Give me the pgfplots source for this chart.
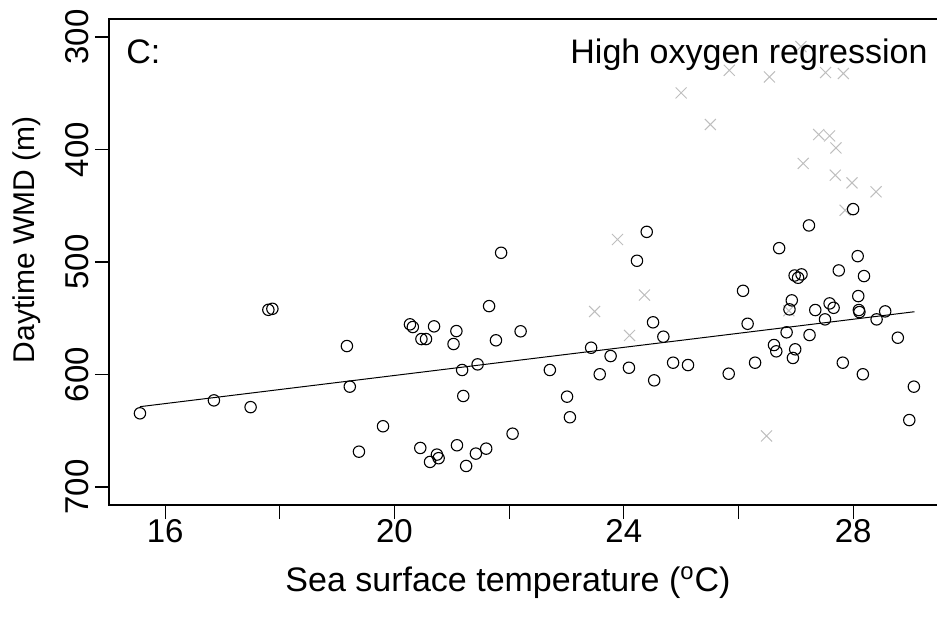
\documentclass[border=0pt]{standalone}
\usepackage{fontspec}
\setmainfont{Liberation Sans}
\usepackage{pgfplots}
\pgfplotsset{compat=1.18}
\definecolor{crossgray}{RGB}{190,190,190}
\begin{document}
\begin{tikzpicture}[x=1pt,y=1pt]
\begin{axis}[name=ax, at={(0,0)}, anchor=south west, scale only axis,
  width=418.2pt, height=243pt,
  xmin=15.02, xmax=29.61, ymin=284, ymax=716, y dir=reverse,
  axis line style={line width=0.6pt},
  xtick={16,18,...,28}, xticklabels={16,,20,,24,,28},
  ytick={300,400,...,700},
  tick pos=left, tick align=outside, major tick length=7pt,
  tick style={line width=0.6pt, black},
  /pgf/number format/assume math mode=true,
  tick label style={font=\fontsize{16.5}{18}\selectfont},
  xticklabel style={anchor=north, inner sep=0pt},
  yticklabel style={xshift=-3.5pt, rotate=90, anchor=base, inner sep=0pt},
  clip=false,
]
% high oxygen points (grey crosses)
\addplot[only marks, mark=x, mark size=3.9pt, color=crossgray, mark options={line width=0.5pt}] coordinates {
(27.09,308.5) (25.84,329.6) (26.54,335.5) (27.52,331.6) (27.83,332.5)
(25.00,349.7) (25.51,377.8) (27.40,386.7) (27.59,387.9) (27.70,398.6)
(27.13,412.4) (27.69,422.8) (27.98,429.7) (28.40,437.6) (27.86,454.0)
(23.89,480.0) (23.49,544.0) (24.36,529.4) (24.10,565.3) (26.88,543.3)
(26.49,654.6)
};
% circles
\addplot[only marks, mark=o, mark size=2.85pt, color=black, mark options={line width=0.55pt}] coordinates {
(15.56,634.5) (16.85,623.0) (17.49,629.0) (17.80,542.5) (17.87,541.6)
(19.17,574.7) (19.22,610.8) (19.80,646.0) (19.38,668.6) (21.86,491.8)
(21.65,539.2) (20.27,555.4) (20.32,557.8) (20.69,557.2) (21.08,561.4)
(20.47,568.5) (20.55,568.5) (21.03,572.9) (21.77,569.6) (22.20,561.6)
(21.45,591.0) (21.18,596.0) (21.20,619.1) (20.45,665.3) (20.74,671.2)
(20.62,677.7) (20.77,674.4) (21.09,662.9) (21.42,670.3) (21.60,665.9)
(21.25,681.3) (22.06,652.6) (22.71,596.0) (23.01,619.7) (23.06,638.0)
(23.43,576.2) (23.77,583.6) (23.58,599.8) (24.09,594.0) (24.40,473.2)
(24.23,498.9) (24.51,553.6) (24.69,566.4) (24.53,605.2) (24.86,589.5)
(25.12,591.6) (25.83,599.3) (26.29,589.5) (26.16,554.9) (26.08,525.6)
(26.71,487.7) (26.62,573.8) (26.66,579.4) (26.84,562.5) (26.95,585.3)
(26.99,577.6) (26.93,534.1) (26.89,542.1) (26.98,512.0) (27.04,514.0)
(27.10,511.0) (28.00,453.0) (27.23,467.5) (28.08,494.8) (27.75,507.5)
(28.19,512.5) (28.09,530.3) (27.59,536.8) (27.66,540.7) (27.34,542.7)
(28.10,542.7) (28.11,544.5) (28.56,543.9) (28.41,551.0) (27.51,551.0)
(27.24,564.9) (27.82,589.5) (28.17,599.8) (28.78,567.3) (29.06,610.8)
(28.98,640.5)
};
% regression line
\addplot[black, line width=0.5pt] coordinates {(15.56,628.6) (29.07,544.2)};
\end{axis}
\node[anchor=base west, font=\fontsize{17}{19}\selectfont, inner sep=0pt] at (8.5,220.8) {C:};
\node[anchor=base east, font=\fontsize{17}{19}\selectfont, inner sep=0pt] at (409.5,220.8) {High oxygen regression};
\node[anchor=base, font=\fontsize{17}{19}\selectfont, inner sep=0pt] at (199.5,-43.5) {Sea surface temperature (\textsuperscript{o}C)};
\node[anchor=base, rotate=90, font=\fontsize{15}{17}\selectfont, inner sep=0pt] at (-37,132.5) {Daytime WMD (m)};
\pgfresetboundingbox
\path (-54.5,-60.5) rectangle (414,252.5);
\end{tikzpicture}
\end{document}
